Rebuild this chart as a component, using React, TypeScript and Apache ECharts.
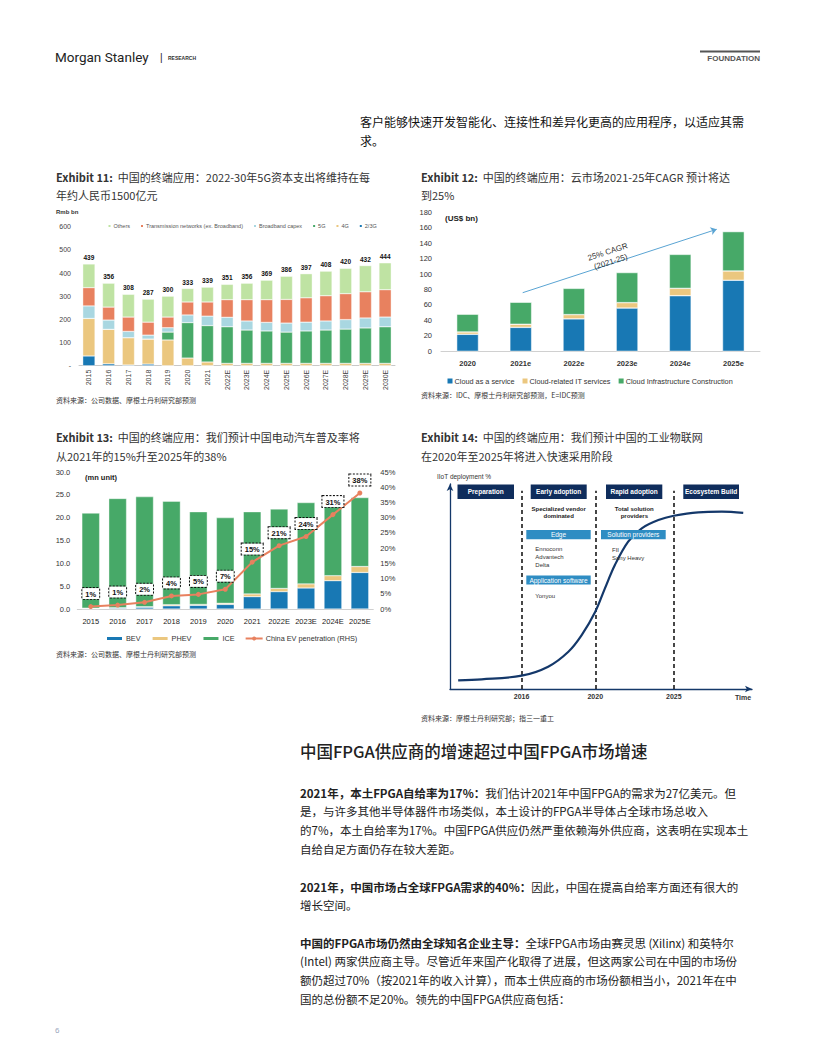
import React, { useEffect, useRef } from "react";
import * as echarts from "echarts";

// ---------- Exhibit 11 ----------
const e11Years = ["2015","2016","2017","2018","2019","2020","2021","2022E","2023E","2024E","2025E","2026E","2027E","2028E","2029E","2030E"];
const e11Totals = [439,356,308,287,300,333,339,351,356,369,386,397,408,420,432,444];
const e11G23 = [42,8,3,7,0,0,0,0,0,0,0,0,0,0,0,0];
const e11G4 = [162,149,118,108,111,33,16,10,10,10,10,10,10,10,10,10];
const e11G5 = [0,0,0,0,34,153,157,158,144,140,135,140,144,148,153,158];
const e11Broadband = [54,40,27,17,19,33,41,41,39,37,39,38,39,41,43,42];
const e11Transmission = [79,56,62,56,46,56,61,76,92,98,102,105,109,112,113,118];
const e11Others = [102,103,98,99,90,58,64,66,71,84,100,104,106,109,113,116];

// ---------- Exhibit 12 ----------
const e12Years = ["2020","2021e","2022e","2023e","2024e","2025e"];
const e12Service = [22,31,42,56,72,92];
const e12IT = [3,4,5.5,7,9.5,12];
const e12Infra = [23,28.5,34,39,44,51];

// ---------- Exhibit 13 ----------
const e13Years = ["2015","2016","2017","2018","2019","2020","2021","2022E","2023E","2024E","2025E"];
const e13BEV = [0.1,0.2,0.4,0.7,0.8,1.0,2.7,3.8,4.6,6.2,8.0];
const e13PHEV = [0.1,0.1,0.1,0.25,0.2,0.25,0.6,0.7,0.9,1.1,1.3];
const e13ICE = [20.8,23.9,24.1,22.65,20.3,18.75,18.0,17.4,17.8,16.7,15.1];
const e13Pen = [0.8,1.3,2.2,4.3,4.8,6.5,15.4,20.8,23.8,31.0,38.1];

// ---------- Exhibit 14 ----------
const e14CurveX = [2.7,10.5,23.7,32.5,39.2,43.6,48.1,51.3,54.6,59.0,63.5,69.0,74.1,82.2,90.0,97.1];
const e14CurveY = [4.2,4.7,6.5,10.9,18.2,26.3,37.7,49.1,60.5,71.9,78.4,82.4,84.5,86.2,86.5,85.9];
const e14PhaseNames = ["2016","2020","2025"];
const e14PhaseX = [23.7,48.1,74.1];
const e14PhaseTop = 96.7;

const CJK = '"Noto Sans CJK SC", "Noto Sans", sans-serif';
const LAT = '"Liberation Sans", Arial, sans-serif';

const C_BLUE = "#1878b4";
const C_TAN = "#ebc77f";
const C_GREEN = "#47a968";
const C_LGREEN = "#bfe3a3";
const C_ORANGE = "#e8815f";
const C_LBLUE = "#a9d7e1";
const NAVY = "#0f2d5c";
const MIDBLUE = "#2f8dc3";

function T(x: number, y: number, text: string, size: number, o: any = {}) {
  return {
    type: "text",
    z: 100,
    style: {
      text,
      x,
      y,
      fill: o.fill || "#333",
      fontSize: size,
      fontFamily: o.family || CJK,
      fontWeight: o.weight || "normal",
      textAlign: o.align || "left",
      textVerticalAlign: "middle",
      rich: o.rich,
    },
    rotation: o.rotation || 0,
    originX: x,
    originY: y,
  };
}

function richTitle(x: number, y: number, lines: string[], size = 11, lh = 19) {
  return lines.map((l, i) =>
    T(x, y + i * lh, l, size, {
      fill: "#333",
      rich: {
        b: { fontWeight: "bold", fontSize: size, fontFamily: CJK, fill: "#333", color: "#333" },
      },
    })
  );
}

function box(x: number, y: number, w: number, h: number, color: string, label: string, bold: boolean) {
  return [
    { type: "rect", z: 90, shape: { x, y, width: w, height: h }, style: { fill: color } },
    T(x + w / 2, y + h / 2, label, 6.5, { fill: "#fff", align: "center", family: LAT, weight: bold ? "bold" : "normal" }),
  ];
}

const bodyRich = { b: { fontWeight: "bold", fontSize: 11.5, fontFamily: CJK, color: "#222", fill: "#222" } };

function para(x: number, y: number, lines: string[], lh = 19) {
  return lines.map((l, i) => T(x, y + i * lh, l, 11.5, { fill: "#222", rich: bodyRich }));
}

export default function App() {
  const ref = useRef<HTMLDivElement>(null);
  useEffect(() => {
    if (!ref.current) return;
    const chart = echarts.init(ref.current, null, { renderer: "svg" });

    const e11Series = [
      { name: "2/3G", data: e11G23, color: C_BLUE },
      { name: "4G", data: e11G4, color: C_TAN },
      { name: "5G", data: e11G5, color: C_GREEN },
      { name: "Broadband capex", data: e11Broadband, color: C_LBLUE },
      { name: "Transmission networks (ex. Broadband)", data: e11Transmission, color: C_ORANGE },
      { name: "Others", data: e11Others, color: C_LGREEN },
    ].map((s, i, arr) => ({
      type: "bar",
      name: s.name,
      data: s.data,
      stack: "e11",
      xAxisIndex: 0,
      yAxisIndex: 0,
      barCategoryGap: "38%",
      itemStyle: { color: s.color, borderColor: "#fff", borderWidth: 0.4 },
      label:
        i === arr.length - 1
          ? {
              show: true,
              position: "top",
              distance: 3,
              fontSize: 6.5,
              fontWeight: "bold",
              color: "#111",
              fontFamily: LAT,
              formatter: (p: any) => String(e11Totals[p.dataIndex]),
            }
          : { show: false },
    }));

    const e12Series = [
      { name: "Cloud as a service", data: e12Service, color: C_BLUE },
      { name: "Cloud-related IT services", data: e12IT, color: C_TAN },
      { name: "Cloud Infrastructure Construction", data: e12Infra, color: C_GREEN },
    ].map((s, i) => ({
      type: "bar",
      name: s.name,
      data: s.data,
      stack: "e12",
      xAxisIndex: 1,
      yAxisIndex: 1,
      barCategoryGap: "59%",
      itemStyle: { color: s.color, borderColor: "#fff", borderWidth: 0.5 },
      markLine:
        i === 2
          ? {
              silent: true,
              symbol: ["none", "arrow"],
              symbolSize: 6,
              label: { show: false },
              lineStyle: { color: "#5aa4d3", width: 1, type: "solid" },
              data: [[{ x: 522.7, y: 292.7 }, { x: 716.7, y: 229.3 }]],
            }
          : undefined,
    }));

    const e13Series: any[] = [
      { name: "BEV", data: e13BEV, color: C_BLUE },
      { name: "PHEV", data: e13PHEV, color: C_TAN },
      { name: "ICE", data: e13ICE, color: C_GREEN },
    ].map((s) => ({
      type: "bar",
      name: s.name,
      data: s.data,
      stack: "e13",
      xAxisIndex: 2,
      yAxisIndex: 2,
      barCategoryGap: "34%",
      itemStyle: { color: s.color, borderColor: "#fff", borderWidth: 0.4 },
    }));
    e13Series.push({
      type: "line",
      name: "China EV penetration (RHS)",
      data: e13Pen,
      xAxisIndex: 2,
      yAxisIndex: 3,
      z: 10,
      symbol: "circle",
      symbolSize: 5,
      lineStyle: { color: C_ORANGE, width: 2 },
      itemStyle: { color: C_ORANGE },
      label: {
        show: true,
        position: "top",
        distance: 5,
        formatter: (p: any) => Math.round(p.value) + "%",
        fontSize: 7.5,
        fontWeight: "bold",
        color: "#111",
        fontFamily: LAT,
        backgroundColor: "#fff",
        borderColor: "#111",
        borderWidth: 1,
        borderType: [2, 1.5],
        padding: [2, 3, 1, 3],
      },
    });

    const e14Series = {
      type: "line",
      name: "IIoT",
      xAxisIndex: 3,
      yAxisIndex: 4,
      data: e14CurveX.map((x, i) => [x, e14CurveY[i]]),
      smooth: 0.35,
      symbol: "none",
      z: 5,
      lineStyle: { color: "#14386a", width: 2.2 },
      markLine: {
        silent: true,
        symbol: ["none", "none"],
        lineStyle: { color: "#1a1a1a", width: 1.6, type: [4, 3] },
        label: {
          show: true,
          position: "start",
          formatter: "{b}",
          fontSize: 7,
          fontWeight: "bold",
          color: "#333",
          fontFamily: LAT,
          distance: 4,
        },
        data: e14PhaseX.map((x, i) => [
          { coord: [x, 0], name: e14PhaseNames[i] },
          { coord: [x, e14PhaseTop] },
        ]),
      },
    };

    const axisLabelBase = { fontFamily: LAT, color: "#444" };

    const graphic: any[] = [
      // header
      T(55, 57, "Morgan Stanley", 13.5, { family: "Roboto", fill: "#222" }),
      T(160, 57, "|", 10, { family: LAT, fill: "#222" }),
      T(168, 57.5, "RESEARCH", 5, { family: LAT, weight: "bold", fill: "#333" }),
      { type: "rect", z: 90, shape: { x: 700, y: 50.5, width: 60, height: 2 }, style: { fill: "#555" } },
      T(760, 58, "FOUNDATION", 8, { family: LAT, weight: "bold", fill: "#555", align: "right" }),
      // intro text
      T(360, 121, "客户能够快速开发智能化、连接性和差异化更高的应用程序，以适应其需", 12, { fill: "#111" }),
      T(360, 140, "求。", 12, { fill: "#111" }),
      // titles
      ...richTitle(56, 176.5, ["{b|Exhibit 11:}  中国的终端应用：2022-30年5G资本支出将维持在每", "年约人民币1500亿元"], 11, 18.5),
      ...richTitle(421, 176.5, ["{b|Exhibit 12:}  中国的终端应用：云市场2021-25年CAGR 预计将达", "到25%"], 11, 18.5),
      ...richTitle(56, 437, ["{b|Exhibit 13:}  中国的终端应用：我们预计中国电动汽车普及率将", "从2021年的15%升至2025年的38%"], 11, 19),
      ...richTitle(421, 437, ["{b|Exhibit 14:}  中国的终端应用：我们预计中国的工业物联网", "在2020年至2025年将进入快速采用阶段"], 11, 19),
      // unit labels
      T(56, 212, "Rmb bn", 6, { family: LAT, weight: "bold", fill: "#333" }),
      T(445, 218.5, "(US$ bn)", 8, { family: LAT, weight: "bold", fill: "#222" }),
      T(85, 477.5, "(mn unit)", 7.5, { family: LAT, weight: "bold", fill: "#222" }),
      // CAGR annotation
      T(608, 252, "25% CAGR", 8, { family: LAT, fill: "#333", align: "center", rotation: 0.31 }),
      T(611, 262, "(2021-25)", 8, { family: LAT, fill: "#333", align: "center", rotation: 0.31 }),
      // sources
      T(56, 400, "资料来源：公司数据、摩根士丹利研究部预测", 7, { fill: "#333" }),
      T(421, 394.5, "资料来源：IDC、摩根士丹利研究部预测，E=IDC预测", 7, { fill: "#333" }),
      T(56, 654, "资料来源：公司数据、摩根士丹利研究部预测", 7, { fill: "#333" }),
      T(421, 717.5, "资料来源：摩根士丹利研究部；指三一重工", 7, { fill: "#333" }),
      // Exhibit 14 diagram texts
      T(437, 476.5, "IIoT deployment %", 6.5, { family: LAT, fill: "#333" }),
      T(743, 697.5, "Time", 7, { family: LAT, fill: "#333", weight: "bold", align: "center" }),
      ...box(457.5, 484.5, 56.5, 14.5, NAVY, "Preparation", true),
      ...box(530.7, 484.5, 56, 14.5, NAVY, "Early adoption", true),
      ...box(606, 484.5, 56.3, 14.5, NAVY, "Rapid adoption", true),
      ...box(683.3, 484.5, 55.7, 14.5, NAVY, "Ecosystem Build", true),
      T(558.7, 508.5, "Specialized vendor", 6, { family: LAT, weight: "bold", fill: "#222", align: "center" }),
      T(558.7, 515.8, "dominated", 6, { family: LAT, weight: "bold", fill: "#222", align: "center" }),
      T(634.3, 508.5, "Total solution", 6, { family: LAT, weight: "bold", fill: "#222", align: "center" }),
      T(634.3, 515.8, "providers", 6, { family: LAT, weight: "bold", fill: "#222", align: "center" }),
      ...box(526.3, 530, 64.4, 9.3, MIDBLUE, "Edge", false),
      ...box(601, 530, 64.7, 9.3, MIDBLUE, "Solution providers", false),
      ...box(526.3, 575.5, 64.4, 9, MIDBLUE, "Application software", false),
      T(535.3, 548.5, "Ennoconn", 6, { family: LAT, fill: "#333" }),
      T(535.3, 556.8, "Advantech", 6, { family: LAT, fill: "#333" }),
      T(535.3, 565, "Delta", 6, { family: LAT, fill: "#333" }),
      T(535.3, 596, "Yonyou", 6, { family: LAT, fill: "#333" }),
      T(612, 550, "FII", 6, { family: LAT, fill: "#333" }),
      T(612, 558.3, "Sany Heavy", 6, { family: LAT, fill: "#333" }),
      // section heading & body
      T(300, 750.5, "中国FPGA供应商的增速超过中国FPGA市场增速", 16.5, { fill: "#222", weight: 500 }),
      ...para(300, 792.5, [
        "{b|2021年，本土FPGA自给率为17%：}我们估计2021年中国FPGA的需求为27亿美元。但",
        "是，与许多其他半导体器件市场类似，本土设计的FPGA半导体占全球市场总收入",
        "的7%，本土自给率为17%。中国FPGA供应仍然严重依赖海外供应商，这表明在实现本土",
        "自给自足方面仍存在较大差距。",
      ], 18.8),
      ...para(300, 886.5, [
        "{b|2021年，中国市场占全球FPGA需求的40%：}因此，中国在提高自给率方面还有很大的",
        "增长空间。",
      ], 18.8),
      ...para(300, 942.5, [
        "{b|中国的FPGA市场仍然由全球知名企业主导：}全球FPGA市场由赛灵思 (Xilinx) 和英特尔",
        "(Intel) 两家供应商主导。尽管近年来国产化取得了进展，但这两家公司在中国的市场份",
        "额仍超过70%（按2021年的收入计算），而本土供应商的市场份额相当小，2021年在中",
        "国的总份额不足20%。领先的中国FPGA供应商包括：",
      ], 18.8),
      T(55, 1030, "6", 8, { family: LAT, fill: "#9aa6bd" }),
    ];

    const option: any = {
      animation: false,
      backgroundColor: "#fff",
      textStyle: { fontFamily: LAT },
      grid: [
        { left: 79, top: 226.7, width: 316, height: 139 },
        { left: 441, top: 212.3, width: 319, height: 139 },
        { left: 77.3, top: 472, width: 296, height: 137 },
        { left: 450, top: 484, width: 302, height: 205 },
      ],
      xAxis: [
        {
          type: "category", gridIndex: 0, data: e11Years,
          axisLine: { lineStyle: { color: "#c8c8c8" } }, axisTick: { show: false },
          axisLabel: { ...axisLabelBase, rotate: 90, fontSize: 7, margin: 4, interval: 0 },
        },
        {
          type: "category", gridIndex: 1, data: e12Years,
          axisLine: { lineStyle: { color: "#d0d0d0" } }, axisTick: { show: false },
          axisLabel: { ...axisLabelBase, color: "#333", fontWeight: "bold", fontSize: 7.5, margin: 8, interval: 0 },
        },
        {
          type: "category", gridIndex: 2, data: e13Years,
          axisLine: { lineStyle: { color: "#d0d0d0" } }, axisTick: { show: false },
          axisLabel: { ...axisLabelBase, color: "#222", fontSize: 7.5, margin: 8, interval: 0 },
        },
        {
          type: "value", gridIndex: 3, min: 0, max: 100,
          axisLine: { show: true, symbol: ["none", "arrow"], symbolSize: [5, 7], lineStyle: { color: "#14386a", width: 1.3 } },
          axisTick: { show: false }, axisLabel: { show: false }, splitLine: { show: false },
        },
      ],
      yAxis: [
        {
          type: "value", gridIndex: 0, min: 0, max: 600, interval: 100,
          axisLine: { show: false }, axisTick: { show: false }, splitLine: { show: false },
          axisLabel: { ...axisLabelBase, fontSize: 7, margin: 8, formatter: (v: number) => (v === 0 ? "-" : String(v)) },
        },
        {
          type: "value", gridIndex: 1, min: 0, max: 180, interval: 20,
          axisLine: { show: false }, axisTick: { show: false }, splitLine: { show: false },
          axisLabel: { ...axisLabelBase, color: "#333", fontSize: 7.5, margin: 9 },
        },
        {
          type: "value", gridIndex: 2, min: 0, max: 30, interval: 5,
          axisLine: { show: false }, axisTick: { show: false }, splitLine: { show: false },
          axisLabel: { ...axisLabelBase, color: "#333", fontSize: 7.5, margin: 7, formatter: (v: number) => v.toFixed(1) },
        },
        {
          type: "value", gridIndex: 2, position: "right", min: 0, max: 45, interval: 5,
          axisLine: { show: false }, axisTick: { show: false }, splitLine: { show: false },
          axisLabel: { ...axisLabelBase, color: "#333", fontSize: 7.5, margin: 7, formatter: "{value}%" },
        },
        {
          type: "value", gridIndex: 3, min: 0, max: 100,
          axisLine: { show: true, symbol: ["none", "arrow"], symbolSize: [5, 7], lineStyle: { color: "#14386a", width: 1.3 } },
          axisTick: { show: false }, axisLabel: { show: false }, splitLine: { show: false },
        },
      ],
      legend: [
        {
          left: 101.5, top: 218, itemWidth: 4, itemHeight: 4, itemGap: 9, icon: "rect",
          data: ["Others", "Transmission networks (ex. Broadband)", "Broadband capex", "5G", "4G", "2/3G"],
          textStyle: { fontSize: 5.5, color: "#555", fontFamily: LAT, padding: [0, 0, 0, -3] },
        },
        {
          left: 440.5, top: 371.5, itemWidth: 7, itemHeight: 7, itemGap: 6, icon: "rect",
          data: ["Cloud as a service", "Cloud-related IT services", "Cloud Infrastructure Construction"],
          textStyle: { fontSize: 7.3, color: "#333", fontFamily: LAT, padding: [0, 0, 0, -4] },
        },
        {
          left: 100, top: 630, itemWidth: 17, itemHeight: 5, itemGap: 10,
          data: [
            { name: "BEV", icon: "rect" },
            { name: "PHEV", icon: "rect" },
            { name: "ICE", icon: "rect" },
            { name: "China EV penetration (RHS)" },
          ],
          textStyle: { fontSize: 7.3, color: "#333", fontFamily: LAT, padding: [0, 0, 0, -2] },
        },
      ],
      series: [...e11Series, ...e12Series, ...e13Series, e14Series],
      graphic,
    };

    chart.setOption(option);
    return () => chart.dispose();
  }, []);

  return (
    <div
      ref={ref}
      style={{ position: "absolute", left: 0, top: 0, width: 816, height: 1056, background: "#fff" }}
    />
  );
}
